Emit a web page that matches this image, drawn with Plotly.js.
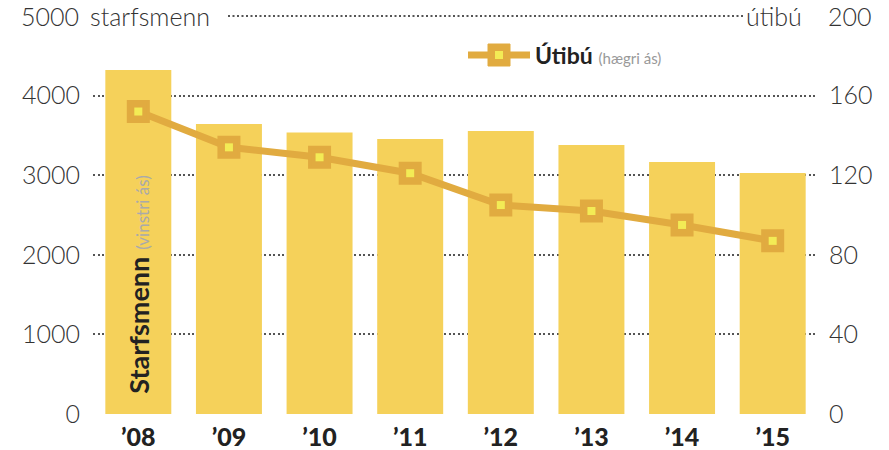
<!DOCTYPE html>
<html><head><meta charset="utf-8">
<script src="https://cdn.plot.ly/plotly-3.0.1.min.js"></script>
<style>html,body{margin:0;padding:0;background:#fff}#c{width:889px;height:450px}</style>
</head><body><div id="c"></div>
<script>
const years = ["’08","’09","’10","’11","’12","’13","’14","’15"];
const staff = [4321,3644,3535,3455,3556,3380,3167,3029];
const branches = [152,134,129,121,105,102,95,87];
const leftTicks = [0,1000,2000,3000,4000];
const rightTicks = [0,40,80,120,160];

const BAR = "#F5D15A", LINE = "#E1AB40", INNER = "#F3EB55", TXT = "#333333";
const FONT = "Lato";
const L = 93, R = 71, T = 16, B = 36, W = 889, H = 450;
const pw = W - L - R;
const px = x => (x - L) / pw;            // pixel -> paper x
const py = y => (H - B - y) / (H - T - B); // pixel -> paper y

const traces = [
  {type:"bar", x:years, y:staff, marker:{color:BAR}, showlegend:false, hoverinfo:"skip"},
  {type:"scatter", mode:"lines+markers", x:years, y:branches, yaxis:"y2",
   line:{color:LINE, width:7}, marker:{symbol:"square", size:20, color:LINE, line:{color:LINE, width:3}},
   showlegend:false, hoverinfo:"skip"},
  {type:"scatter", mode:"markers", x:years, y:branches, yaxis:"y2",
   marker:{symbol:"square", size:8, color:INNER}, showlegend:false, hoverinfo:"skip"}
];

const gridDash = "2px,2.5px";
const GRID = "#555";
const tickFont = {family:FONT, size:25, color:TXT, weight:300};
const layout = {
  width:W, height:H, margin:{l:L, r:R, t:T, b:B, pad:0},
  paper_bgcolor:"#fff", plot_bgcolor:"#fff",
  font:{family:FONT, color:TXT},
  bargap:0.272,
  xaxis:{type:"category", range:[-0.5,7.5], showgrid:false, zeroline:false, showline:false,
    ticks:"", tickfont:{family:FONT, size:25, color:"#222", weight:900}, ticklabelstandoff:6, fixedrange:true},
  yaxis:{range:[0,5000], tickvals:leftTicks, ticktext:leftTicks.map(String), showgrid:true,
    gridcolor:GRID, gridwidth:2, griddash:gridDash, zeroline:false, showline:false, ticks:"",
    tickfont:tickFont, ticklabelstandoff:12, fixedrange:true},
  yaxis2:{range:[0,200], overlaying:"y", side:"right", tickvals:rightTicks, ticktext:rightTicks.map(String),
    showgrid:false, zeroline:false, showline:false, ticks:"",
    tickfont:tickFont, ticklabelstandoff:10, fixedrange:true},
  shapes:[
    {type:"line", xref:"paper", yref:"paper", x0:px(228), x1:px(745), y0:1, y1:1,
     line:{color:GRID, width:2, dash:gridDash}},
    // legend symbol
    {type:"line", xref:"paper", yref:"paper", x0:px(468), x1:px(530), y0:py(55), y1:py(55),
     line:{color:LINE, width:7}},
    {type:"rect", xref:"paper", yref:"paper", x0:px(488), x1:px(510), y0:py(44), y1:py(66),
     fillcolor:LINE, line:{color:LINE, width:1}},
    {type:"rect", xref:"paper", yref:"paper", x0:px(495), x1:px(503), y0:py(51), y1:py(59),
     fillcolor:INNER, line:{width:0}}
  ],
  annotations:[
    {xref:"paper", yref:"paper", x:px(81), y:1, xanchor:"right", yanchor:"middle", showarrow:false,
     text:"5000", font:tickFont},
    {xref:"paper", yref:"paper", x:px(88), y:1, xanchor:"left", yanchor:"middle", showarrow:false,
     text:"starfsmenn", font:tickFont},
    {xref:"paper", yref:"paper", x:px(804), y:1, xanchor:"right", yanchor:"middle", showarrow:false,
     text:"útibú", font:tickFont},
    {xref:"paper", yref:"paper", x:px(826), y:1, xanchor:"left", yanchor:"middle", showarrow:false,
     text:"200", font:tickFont},
    {xref:"paper", yref:"paper", x:px(533), y:py(55), xanchor:"left", yanchor:"middle", showarrow:false,
     text:"<b>Útibú</b> <span style='font-size:15px;color:#999'>(hægri ás)</span>",
     font:{family:FONT, size:23, color:"#222"}},
    {xref:"x", yref:"y", x:years[0], y:0, xanchor:"center", yanchor:"bottom", yshift:18, showarrow:false,
     textangle:-90,
     text:"<b>Starfsmenn</b> <span style='font-size:17px;color:#aaa'>(vinstri ás)</span>",
     font:{family:FONT, size:27, color:"#222"}}
  ]
};
Plotly.newPlot("c", traces, layout, {displayModeBar:false, staticPlot:true});
</script></body></html>
